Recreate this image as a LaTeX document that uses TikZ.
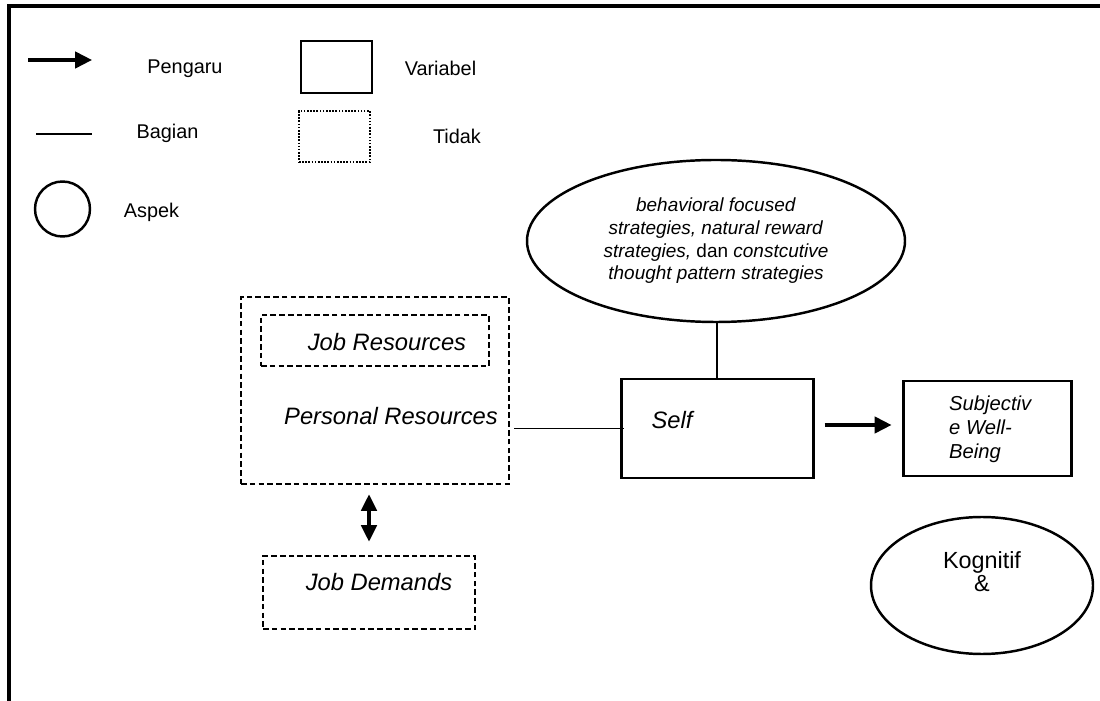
\documentclass[tikz,border=0pt]{standalone}
\usepackage{fontspec}
\setmainfont{Liberation Sans}
\usetikzlibrary{arrows.meta,shapes.geometric}
\begin{document}
\begin{tikzpicture}[
  varbox/.style={draw, line width=1.5pt, inner sep=0pt},
  dashbox/.style={draw, line width=1.5pt, dash pattern=on 3.2pt off 1.8pt, inner sep=0pt},
  dotbox/.style={draw, line width=1.5pt, dash pattern=on 0.9pt off 0.9pt, inner sep=0pt},
  aspek/.style={draw, ellipse, line width=1.4pt, inner sep=0pt},
  lbl/.style={font=\fontsize{11.3}{13}\selectfont},
  boxlbl/.style={font=\fontsize{13.5}{16}\selectfont\itshape},
  pengaruh/.style={line width=1.8pt, -{Triangle[length=3.4mm,width=3.3mm]}},
  bagian/.style={line width=0.9pt}
]
\useasboundingbox (0,0) rectangle (22,14);
\clip (0,0) rectangle (22,14);

% frame
\draw[line width=2pt] (0.18,-0.5) -- (0.18,13.88) -- (22.5,13.88);

% legend
\coordinate (arra) at (0.56,12.8);
\coordinate (arrb) at (1.84,12.8);
\draw[pengaruh] (arra) -- (arrb);
\node[lbl] (pengaru) at (3.70,12.62) {Pengaru};

\coordinate (bga) at (0.72,11.32);
\coordinate (bgb) at (1.84,11.32);
\draw[bagian] (bga) -- (bgb);
\node[lbl] (bagian) at (3.35,11.34) {Bagian};

\node[varbox, minimum width=1.42cm, minimum height=1.04cm] (legvar) at (6.73,12.66) {};
\node[lbl] (variabel) at (8.81,12.64) {Variabel};

\node[dotbox, minimum width=1.42cm, minimum height=1.02cm] (legtidak) at (6.69,11.27) {};
\node[lbl] (tidak) at (9.14,11.27) {Tidak};

\node[aspek, circle, minimum size=1.1cm] (legaspek) at (1.25,9.82) {};
\node[lbl] (aspektxt) at (3.03,9.76) {Aspek};

% self leadership strategies
\node[aspek, minimum width=7.56cm, minimum height=3.24cm, align=center,
  font=\fontsize{10.8}{12.9}\selectfont] (strat) at (14.32,9.18)
  {\textit{behavioral focused}\\ \textit{strategies, natural reward}\\
   \textit{strategies,} dan \textit{constcutive}\\ \textit{thought pattern strategies}};

% resources
\node[dashbox, minimum width=5.36cm, minimum height=3.74cm] (personal) at (7.50,6.19) {};
\node[dashbox, minimum width=4.56cm, minimum height=1.02cm] (jobres) at (7.50,7.19) {};
\node[boxlbl] (jobrestxt) at (7.74,7.16) {Job Resources};
\node[boxlbl] (personaltxt) at (7.82,5.68) {Personal Resources};

\node[dashbox, minimum width=4.24cm, minimum height=1.46cm] (jobdem) at (7.38,2.15) {};
\node[boxlbl] (jobdemtxt) at (7.58,2.36) {Job Demands};

% self
\node[varbox, line width=1.7pt, minimum width=3.84cm, minimum height=1.98cm] (self) at (14.34,5.43) {};
\node[boxlbl] (selftxt) at (13.44,5.60) {Self};

% subjective well-being
\node[varbox, line width=1.7pt, minimum width=3.36cm, minimum height=1.90cm] (swb) at (19.74,5.43) {};
\node[anchor=west, align=left, font=\fontsize{11.5}{13.6}\selectfont\itshape] (swbtxt) at (18.86,5.42)
  {Subjectiv\\ e Well-\\ Being};

\node[aspek, minimum width=4.44cm, minimum height=2.74cm, align=center,
  font=\fontsize{13.3}{11.5}\selectfont] (kog) at (19.64,2.29) {Kognitif\\ \&\\[4pt]};

% connectors
\draw[bagian] (strat.south -| self.north) -- (self.north);
\draw[bagian, line width=1.1pt, shorten <=0.08cm] (personal.east |- self.west) -- ([xshift=0.08cm]self.west);
\draw[pengaruh, shorten <=0.2cm, shorten >=0.2cm] ([yshift=0.07cm]self.east) -- ([yshift=0.07cm]swb.west);
\draw[line width=1.8pt, {Triangle[length=3.3mm,width=3.1mm]}-{Triangle[length=3.3mm,width=3.1mm]},
  shorten <=0.18cm, shorten >=0.26cm] (jobdem.north |- personal.south) -- (jobdem.north);

\end{tikzpicture}
\end{document}
